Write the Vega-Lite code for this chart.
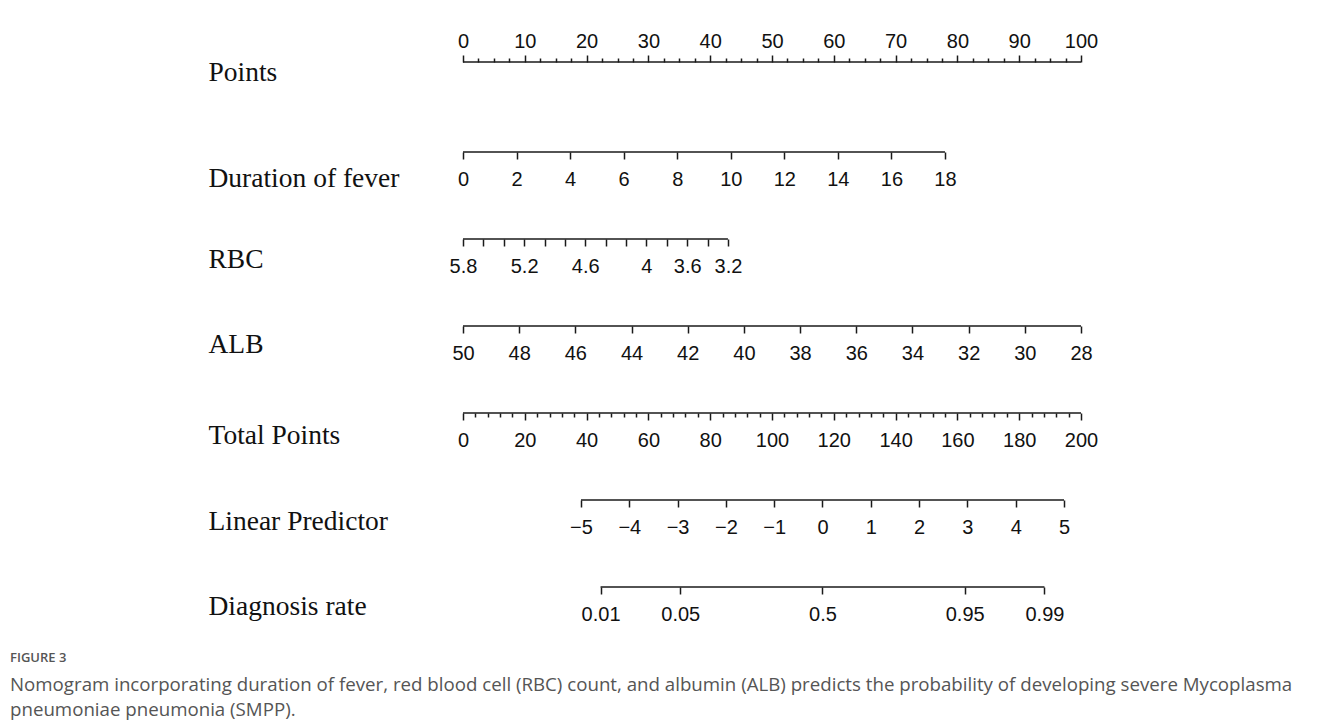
{
  "$schema": "https://vega.github.io/schema/vega-lite/v6.json",
  "background": "white",
  "padding": {"left": 10, "top": 31, "right": 5, "bottom": 5},
  "bounds": "flush",
  "spacing": 77,
  "data": {
    "values": [
      {"axis": "Points", "value": 0, "label": "0"},
      {"axis": "Points", "value": 10, "label": "10"},
      {"axis": "Points", "value": 20, "label": "20"},
      {"axis": "Points", "value": 30, "label": "30"},
      {"axis": "Points", "value": 40, "label": "40"},
      {"axis": "Points", "value": 50, "label": "50"},
      {"axis": "Points", "value": 60, "label": "60"},
      {"axis": "Points", "value": 70, "label": "70"},
      {"axis": "Points", "value": 80, "label": "80"},
      {"axis": "Points", "value": 90, "label": "90"},
      {"axis": "Points", "value": 100, "label": "100"},
      {"axis": "Duration of fever", "value": 0, "label": "0"},
      {"axis": "Duration of fever", "value": 2, "label": "2"},
      {"axis": "Duration of fever", "value": 4, "label": "4"},
      {"axis": "Duration of fever", "value": 6, "label": "6"},
      {"axis": "Duration of fever", "value": 8, "label": "8"},
      {"axis": "Duration of fever", "value": 10, "label": "10"},
      {"axis": "Duration of fever", "value": 12, "label": "12"},
      {"axis": "Duration of fever", "value": 14, "label": "14"},
      {"axis": "Duration of fever", "value": 16, "label": "16"},
      {"axis": "Duration of fever", "value": 18, "label": "18"},
      {"axis": "RBC", "value": 5.8, "label": "5.8"},
      {"axis": "RBC", "value": 5.6, "label": ""},
      {"axis": "RBC", "value": 5.4, "label": ""},
      {"axis": "RBC", "value": 5.2, "label": "5.2"},
      {"axis": "RBC", "value": 5.0, "label": ""},
      {"axis": "RBC", "value": 4.8, "label": ""},
      {"axis": "RBC", "value": 4.6, "label": "4.6"},
      {"axis": "RBC", "value": 4.4, "label": ""},
      {"axis": "RBC", "value": 4.2, "label": ""},
      {"axis": "RBC", "value": 4.0, "label": "4"},
      {"axis": "RBC", "value": 3.8, "label": ""},
      {"axis": "RBC", "value": 3.6, "label": "3.6"},
      {"axis": "RBC", "value": 3.4, "label": ""},
      {"axis": "RBC", "value": 3.2, "label": "3.2"},
      {"axis": "ALB", "value": 50, "label": "50"},
      {"axis": "ALB", "value": 48, "label": "48"},
      {"axis": "ALB", "value": 46, "label": "46"},
      {"axis": "ALB", "value": 44, "label": "44"},
      {"axis": "ALB", "value": 42, "label": "42"},
      {"axis": "ALB", "value": 40, "label": "40"},
      {"axis": "ALB", "value": 38, "label": "38"},
      {"axis": "ALB", "value": 36, "label": "36"},
      {"axis": "ALB", "value": 34, "label": "34"},
      {"axis": "ALB", "value": 32, "label": "32"},
      {"axis": "ALB", "value": 30, "label": "30"},
      {"axis": "ALB", "value": 28, "label": "28"},
      {"axis": "Total Points", "value": 0, "label": "0"},
      {"axis": "Total Points", "value": 20, "label": "20"},
      {"axis": "Total Points", "value": 40, "label": "40"},
      {"axis": "Total Points", "value": 60, "label": "60"},
      {"axis": "Total Points", "value": 80, "label": "80"},
      {"axis": "Total Points", "value": 100, "label": "100"},
      {"axis": "Total Points", "value": 120, "label": "120"},
      {"axis": "Total Points", "value": 140, "label": "140"},
      {"axis": "Total Points", "value": 160, "label": "160"},
      {"axis": "Total Points", "value": 180, "label": "180"},
      {"axis": "Total Points", "value": 200, "label": "200"},
      {"axis": "Linear Predictor", "value": -5, "label": "-5"},
      {"axis": "Linear Predictor", "value": -4, "label": "-4"},
      {"axis": "Linear Predictor", "value": -3, "label": "-3"},
      {"axis": "Linear Predictor", "value": -2, "label": "-2"},
      {"axis": "Linear Predictor", "value": -1, "label": "-1"},
      {"axis": "Linear Predictor", "value": 0, "label": "0"},
      {"axis": "Linear Predictor", "value": 1, "label": "1"},
      {"axis": "Linear Predictor", "value": 2, "label": "2"},
      {"axis": "Linear Predictor", "value": 3, "label": "3"},
      {"axis": "Linear Predictor", "value": 4, "label": "4"},
      {"axis": "Linear Predictor", "value": 5, "label": "5"},
      {"axis": "Diagnosis rate", "value": -4.5951, "label": "0.01"},
      {"axis": "Diagnosis rate", "value": -2.9444, "label": "0.05"},
      {"axis": "Diagnosis rate", "value": 0, "label": "0.5"},
      {"axis": "Diagnosis rate", "value": 2.9444, "label": "0.95"},
      {"axis": "Diagnosis rate", "value": 4.5951, "label": "0.99"}
    ]
  },
  "title": {
    "text": "FIGURE 3",
    "subtitle": ["Nomogram incorporating duration of fever, red blood cell (RBC) count, and albumin (ALB) predicts the probability of developing severe Mycoplasma", "pneumoniae pneumonia (SMPP)."],
    "orient": "bottom",
    "anchor": "start",
    "frame": "bounds",
    "dx": -198,
    "offset": 28,
    "font": "Open Sans",
    "fontSize": 13,
    "fontWeight": 600,
    "color": "#555555",
    "subtitleFont": "Open Sans",
    "subtitleFontSize": 18.7,
    "subtitleColor": "#555555",
    "subtitleLineHeight": 25,
    "subtitlePadding": 11
  },
  "vconcat": [
    {
      "width": 618, "height": 3,
      "transform": [{"filter": "datum.axis === 'Points'"}],
      "mark": {"type": "rule", "color": "#1a1a1a", "strokeWidth": 1.5},
      "encoding": {
        "x": {"field": "value", "aggregate": "min", "type": "quantitative", "title": null,
          "scale": {"domain": [0, 100], "nice": false, "zero": false},
          "axis": {"orient": "top", "format": "d", "labelPadding": 4,
            "values": [0,2.5,5,7.5,10,12.5,15,17.5,20,22.5,25,27.5,30,32.5,35,37.5,40,42.5,45,47.5,50,52.5,55,57.5,60,62.5,65,67.5,70,72.5,75,77.5,80,82.5,85,87.5,90,92.5,95,97.5,100],
            "tickSize": {"condition": {"test": "datum.value % 10 === 0", "value": 7}, "value": 4},
            "labelExpr": "datum.value % 10 === 0 ? datum.label : ''"}},
        "x2": {"field": "value", "aggregate": "max"},
        "y": {"datum": 1, "type": "quantitative", "scale": {"domain": [0, 1]},
          "axis": {"title": "Points", "titleY": 10}}
      }
    },
    {
      "width": 618, "height": 10,
      "transform": [{"filter": "datum.axis === 'Duration of fever'"}],
      "mark": {"type": "rule", "color": "#1a1a1a", "strokeWidth": 1.5},
      "encoding": {
        "x": {"field": "value", "aggregate": "min", "type": "quantitative", "title": null,
          "scale": {"domain": [0, 23.08], "nice": false, "zero": false},
          "axis": {"orient": "bottom", "format": "d", "values": [0,2,4,6,8,10,12,14,16,18]}},
        "x2": {"field": "value", "aggregate": "max"},
        "y": {"datum": 0, "type": "quantitative", "scale": {"domain": [0, 1]},
          "axis": {"title": "Duration of fever", "titleY": 36}}
      }
    },
    {
      "width": 618, "height": 10,
      "transform": [{"filter": "datum.axis === 'RBC'"}],
      "mark": {"type": "rule", "color": "#1a1a1a", "strokeWidth": 1.5},
      "encoding": {
        "x": {"field": "value", "aggregate": "min", "type": "quantitative", "title": null,
          "scale": {"domain": [-0.265, 5.8], "reverse": true, "nice": false, "zero": false},
          "axis": {"orient": "bottom", "format": "~g",
            "values": [5.8,5.6,5.4,5.2,5.0,4.8,4.6,4.4,4.2,4.0,3.8,3.6,3.4,3.2],
            "labelExpr": "(datum.value === 5.8 || datum.value === 5.2 || datum.value === 4.6 || datum.value === 4 || datum.value === 3.6 || datum.value === 3.2) ? datum.label : ''"}},
        "x2": {"field": "value", "aggregate": "max"},
        "y": {"datum": 0, "type": "quantitative", "scale": {"domain": [0, 1]},
          "axis": {"title": "RBC", "titleY": 30}}
      }
    },
    {
      "width": 618, "height": 10,
      "transform": [{"filter": "datum.axis === 'ALB'"}],
      "mark": {"type": "rule", "color": "#1a1a1a", "strokeWidth": 1.5},
      "encoding": {
        "x": {"field": "value", "aggregate": "min", "type": "quantitative", "title": null,
          "scale": {"domain": [28, 50], "reverse": true, "nice": false, "zero": false},
          "axis": {"orient": "bottom", "format": "d", "values": [50,48,46,44,42,40,38,36,34,32,30,28]}},
        "x2": {"field": "value", "aggregate": "max"},
        "y": {"datum": 0, "type": "quantitative", "scale": {"domain": [0, 1]},
          "axis": {"title": "ALB", "titleY": 28}}
      }
    },
    {
      "width": 618, "height": 10,
      "transform": [{"filter": "datum.axis === 'Total Points'"}],
      "mark": {"type": "rule", "color": "#1a1a1a", "strokeWidth": 1.5},
      "encoding": {
        "x": {"field": "value", "aggregate": "min", "type": "quantitative", "title": null,
          "scale": {"domain": [0, 200], "nice": false, "zero": false},
          "axis": {"orient": "bottom", "format": "d",
            "values": [0,4,8,12,16,20,24,28,32,36,40,44,48,52,56,60,64,68,72,76,80,84,88,92,96,100,104,108,112,116,120,124,128,132,136,140,144,148,152,156,160,164,168,172,176,180,184,188,192,196,200],
            "tickSize": {"condition": {"test": "datum.value % 20 === 0", "value": 7}, "value": 4},
            "labelExpr": "datum.value % 20 === 0 ? datum.label : ''"}},
        "x2": {"field": "value", "aggregate": "max"},
        "y": {"datum": 0, "type": "quantitative", "scale": {"domain": [0, 1]},
          "axis": {"title": "Total Points", "titleY": 32}}
      }
    },
    {
      "width": 618, "height": 10,
      "transform": [{"filter": "datum.axis === 'Linear Predictor'"}],
      "mark": {"type": "rule", "color": "#1a1a1a", "strokeWidth": 1.5},
      "encoding": {
        "x": {"field": "value", "aggregate": "min", "type": "quantitative", "title": null,
          "scale": {"domain": [-7.443, 5.352], "nice": false, "zero": false},
          "axis": {"orient": "bottom", "format": "d",
            "values": [-5,-4.5,-4,-3.5,-3,-2.5,-2,-1.5,-1,-0.5,0,0.5,1,1.5,2,2.5,3,3.5,4,4.5,5],
            "tickSize": {"condition": {"test": "datum.value % 1 === 0", "value": 7}, "value": 4},
            "labelExpr": "datum.value % 1 === 0 ? datum.label : ''"}},
        "x2": {"field": "value", "aggregate": "max"},
        "y": {"datum": 0, "type": "quantitative", "scale": {"domain": [0, 1]},
          "axis": {"title": "Linear Predictor", "titleY": 31}}
      }
    },
    {
      "width": 618, "height": 10,
      "transform": [{"filter": "datum.axis === 'Diagnosis rate'"}],
      "mark": {"type": "rule", "color": "#1a1a1a", "strokeWidth": 1.5},
      "encoding": {
        "x": {"field": "value", "aggregate": "min", "type": "quantitative", "title": null,
          "scale": {"domain": [-7.443, 5.352], "nice": false, "zero": false},
          "axis": {"orient": "bottom",
            "values": [-4.5951, -2.9444, 0, 2.9444, 4.5951],
            "labelExpr": "datum.value < -4 ? '0.01' : datum.value < -2 ? '0.05' : datum.value < 1 ? '0.5' : datum.value < 4 ? '0.95' : '0.99'"}},
        "x2": {"field": "value", "aggregate": "max"},
        "y": {"datum": 0, "type": "quantitative", "scale": {"domain": [0, 1]},
          "axis": {"title": "Diagnosis rate", "titleY": 29}}
      }
    }
  ],
  "config": {
    "view": {"stroke": null},
    "axis": {"grid": false},
    "axisX": {
      "domain": false,
      "tickColor": "#1a1a1a",
      "tickWidth": 1.5,
      "tickSize": 7,
      "labelFont": "Liberation Sans",
      "labelFontSize": 20,
      "labelColor": "#111111",
      "labelPadding": 10,
      "labelFlush": false,
      "labelOverlap": false,
      "labelBound": false
    },
    "axisY": {
      "domain": false,
      "ticks": false,
      "labels": false,
      "titleAngle": 0,
      "titleAlign": "left",
      "titleBaseline": "middle",
      "titleX": -255,
      "titleFont": "Liberation Serif",
      "titleFontSize": 27.5,
      "titleFontWeight": "normal",
      "titleColor": "#111111"
    }
  }
}
